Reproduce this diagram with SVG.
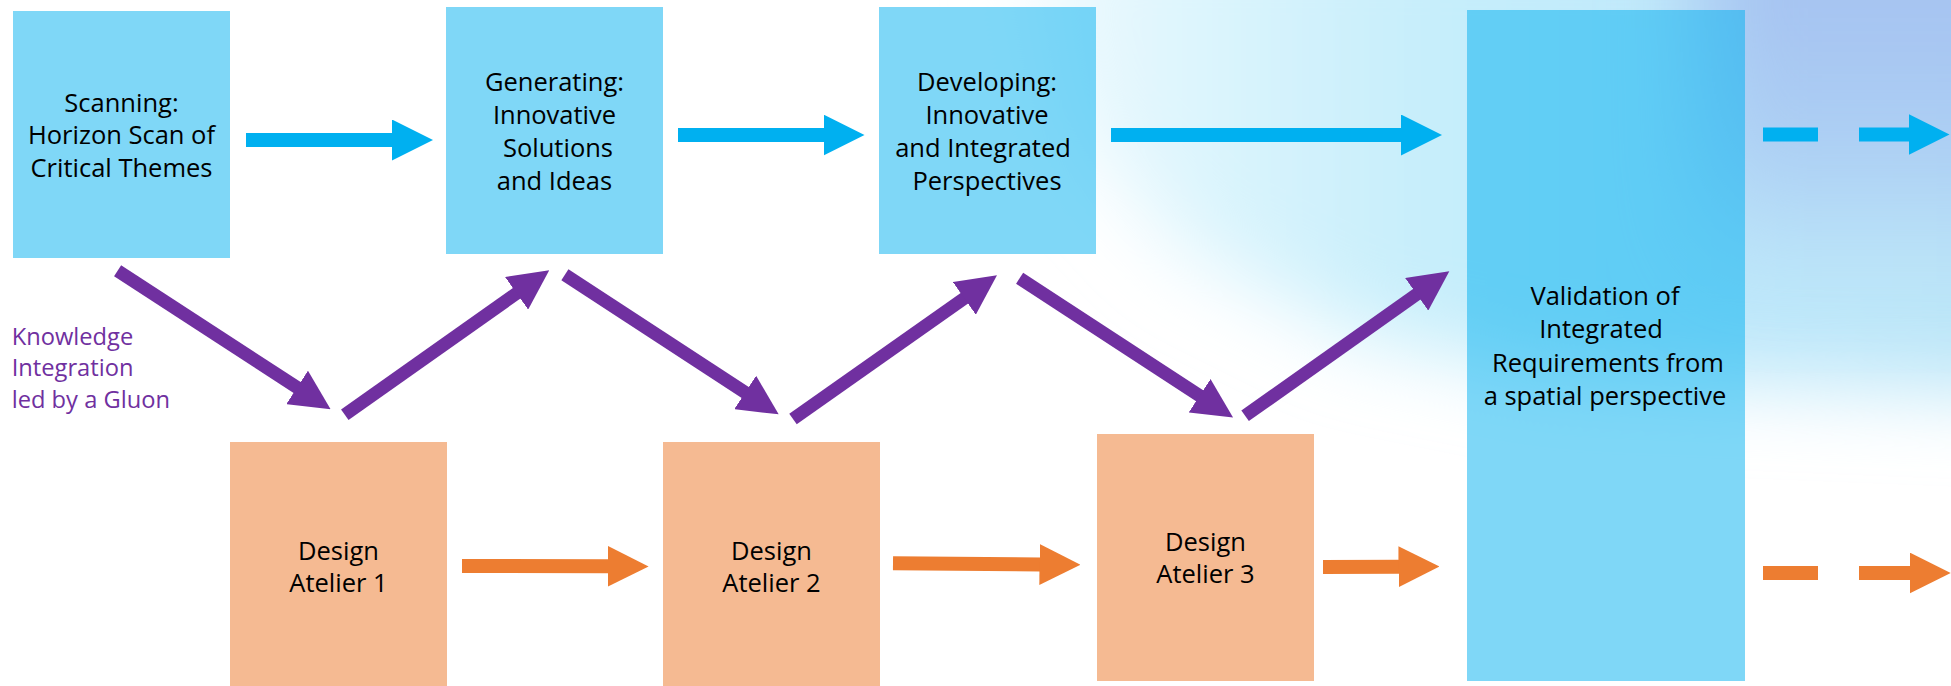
<svg xmlns="http://www.w3.org/2000/svg" width="1951" height="686" viewBox="0 0 1951 686">
<defs>
<style>
.bb{fill:#00B0F0;fill-opacity:0.5}
.bo{fill:#ED7D31;fill-opacity:0.53}
.t{font-family:"Open Sans","Noto Sans","DejaVu Sans",sans-serif;font-size:25.5px;fill:#000000;text-anchor:middle}
.lbl{font-family:"Open Sans","Noto Sans","DejaVu Sans",sans-serif;font-size:23.7px;fill:#7030A0}
.cb{stroke:#00B0F0;stroke-width:14;fill:none}
.co{stroke:#ED7D31;stroke-width:14;fill:none}
.cp{stroke:#7030A0;stroke-width:13;fill:none}
</style>
<linearGradient id="glowGrad" gradientUnits="userSpaceOnUse" x1="1000" y1="0" x2="1951" y2="0">
<stop offset="0" stop-color="#F2FBFE"/>
<stop offset="0.2" stop-color="#DDF5FD"/>
<stop offset="0.45" stop-color="#C6EEFB"/>
<stop offset="0.75" stop-color="#BEE8FA"/>
<stop offset="1" stop-color="#BCE6F8"/>
</linearGradient>
<linearGradient id="lav" gradientUnits="userSpaceOnUse" x1="0" y1="0" x2="0" y2="300">
<stop offset="0" stop-color="#A6C3F1" stop-opacity="1"/>
<stop offset="0.55" stop-color="#AACCF3" stop-opacity="0.85"/>
<stop offset="1" stop-color="#B8DDF7" stop-opacity="0"/>
</linearGradient>
<filter id="blur" filterUnits="userSpaceOnUse" x="700" y="-300" width="1500" height="1000">
<feGaussianBlur stdDeviation="40"/>
</filter>
<filter id="blur2" filterUnits="userSpaceOnUse" x="1400" y="-300" width="800" height="800">
<feGaussianBlur stdDeviation="45"/>
</filter>
<marker id="hb" markerUnits="userSpaceOnUse" viewBox="0 0 41 41" markerWidth="41" markerHeight="41" refX="1" refY="20.5" orient="auto">
<path d="M0,0 L41,20.5 L0,41 Z" fill="#00B0F0"/>
</marker>
<marker id="ho" markerUnits="userSpaceOnUse" viewBox="0 0 41 41" markerWidth="41" markerHeight="41" refX="1" refY="20.5" orient="auto">
<path d="M0,0 L41,20.5 L0,41 Z" fill="#ED7D31"/>
</marker>
<marker id="hp" markerUnits="userSpaceOnUse" viewBox="0 0 40 40" markerWidth="40" markerHeight="40" refX="1" refY="20" orient="auto">
<path d="M0,0 L40,20 L0,40 Z" fill="#7030A0"/>
</marker>
</defs>

<rect x="0" y="0" width="1951" height="686" fill="#FFFFFF"/>
<g id="background-glow">
<path d="M1020,-80 L2050,-80 L2050,395 L1800,385 L1550,375 L1350,335 L1180,250 L1060,120 Z" fill="url(#glowGrad)" filter="url(#blur)"/>
<rect x="1700" y="-100" width="400" height="380" fill="url(#lav)" filter="url(#blur2)"/>
</g>

<g id="node-scanning">
<rect class="bb" x="13" y="11" width="217" height="247"/>
<text class="t" x="121.5" y="111.5">Scanning:</text>
<text class="t" x="121.5" y="144">Horizon Scan of</text>
<text class="t" x="121.5" y="177">Critical Themes</text>
</g>

<g id="node-generating">
<rect class="bb" x="446" y="7" width="217" height="247"/>
<text class="t" x="554.5" y="91">Generating:</text>
<text class="t" x="554.5" y="124">Innovative</text>
<text class="t" x="558" y="157">Solutions</text>
<text class="t" x="554.5" y="190">and Ideas</text>
</g>

<g id="node-developing">
<rect class="bb" x="879" y="7" width="217" height="247"/>
<text class="t" x="987" y="91">Developing:</text>
<text class="t" x="987" y="124">Innovative</text>
<text class="t" x="983" y="157">and Integrated</text>
<text class="t" x="987" y="190">Perspectives</text>
</g>

<g id="node-validation">
<rect class="bb" x="1467" y="10" width="278" height="671"/>
<text class="t" x="1605" y="305">Validation of</text>
<text class="t" x="1601" y="338">Integrated</text>
<text class="t" x="1608" y="372">Requirements from</text>
<text class="t" x="1605" y="405">a spatial perspective</text>
</g>

<g id="node-atelier1">
<rect class="bo" x="230" y="442" width="217" height="247"/>
<text class="t" x="338.5" y="560">Design</text>
<text class="t" x="338.5" y="591.5">Atelier 1</text>
</g>

<g id="node-atelier2">
<rect class="bo" x="663" y="442" width="217" height="247"/>
<text class="t" x="771.5" y="560">Design</text>
<text class="t" x="771.5" y="591.5">Atelier 2</text>
</g>

<g id="node-atelier3">
<rect class="bo" x="1097" y="434" width="217" height="247"/>
<text class="t" x="1205.5" y="550.5">Design</text>
<text class="t" x="1205.5" y="582.5">Atelier 3</text>
</g>

<g id="label-knowledge">
<text class="lbl" x="11.7" y="345">Knowledge</text>
<text class="lbl" x="11.7" y="376">Integration</text>
<text class="lbl" x="11.7" y="407.5">led by a Gluon</text>
</g>

<g id="connectors">
<path class="cb" d="M246,140 L393,140" marker-end="url(#hb)"/>
<path class="cb" d="M678,135 L824.5,135" marker-end="url(#hb)"/>
<path class="cb" d="M1111,135 L1402,135" marker-end="url(#hb)"/>
<path class="cb" d="M1763,134.5 L1909.5,134.5" stroke-dasharray="55 41 60" marker-end="url(#hb)"/>
<path class="co" d="M462,566 L608.6,566.3" marker-end="url(#ho)"/>
<path class="co" d="M893,563.3 L1040.5,564.5" marker-end="url(#ho)"/>
<path class="co" d="M1323,567 L1399.5,566.7" marker-end="url(#ho)"/>
<path class="co" d="M1763,573 L1910.7,573" stroke-dasharray="55 41 60" marker-end="url(#ho)"/>
<path class="cp" d="M117.6,270.8 L297.9,388" marker-end="url(#hp)"/>
<path class="cp" d="M344.8,414.7 L517.4,292.7" marker-end="url(#hp)"/>
<path class="cp" d="M564.9,274.7 L746,393" marker-end="url(#hp)"/>
<path class="cp" d="M793,419 L965.1,297.8" marker-end="url(#hp)"/>
<path class="cp" d="M1019.6,278.3 L1200.4,396.3" marker-end="url(#hp)"/>
<path class="cp" d="M1245.1,415.8 L1417.5,293.7" marker-end="url(#hp)"/>
</g>
</svg>
